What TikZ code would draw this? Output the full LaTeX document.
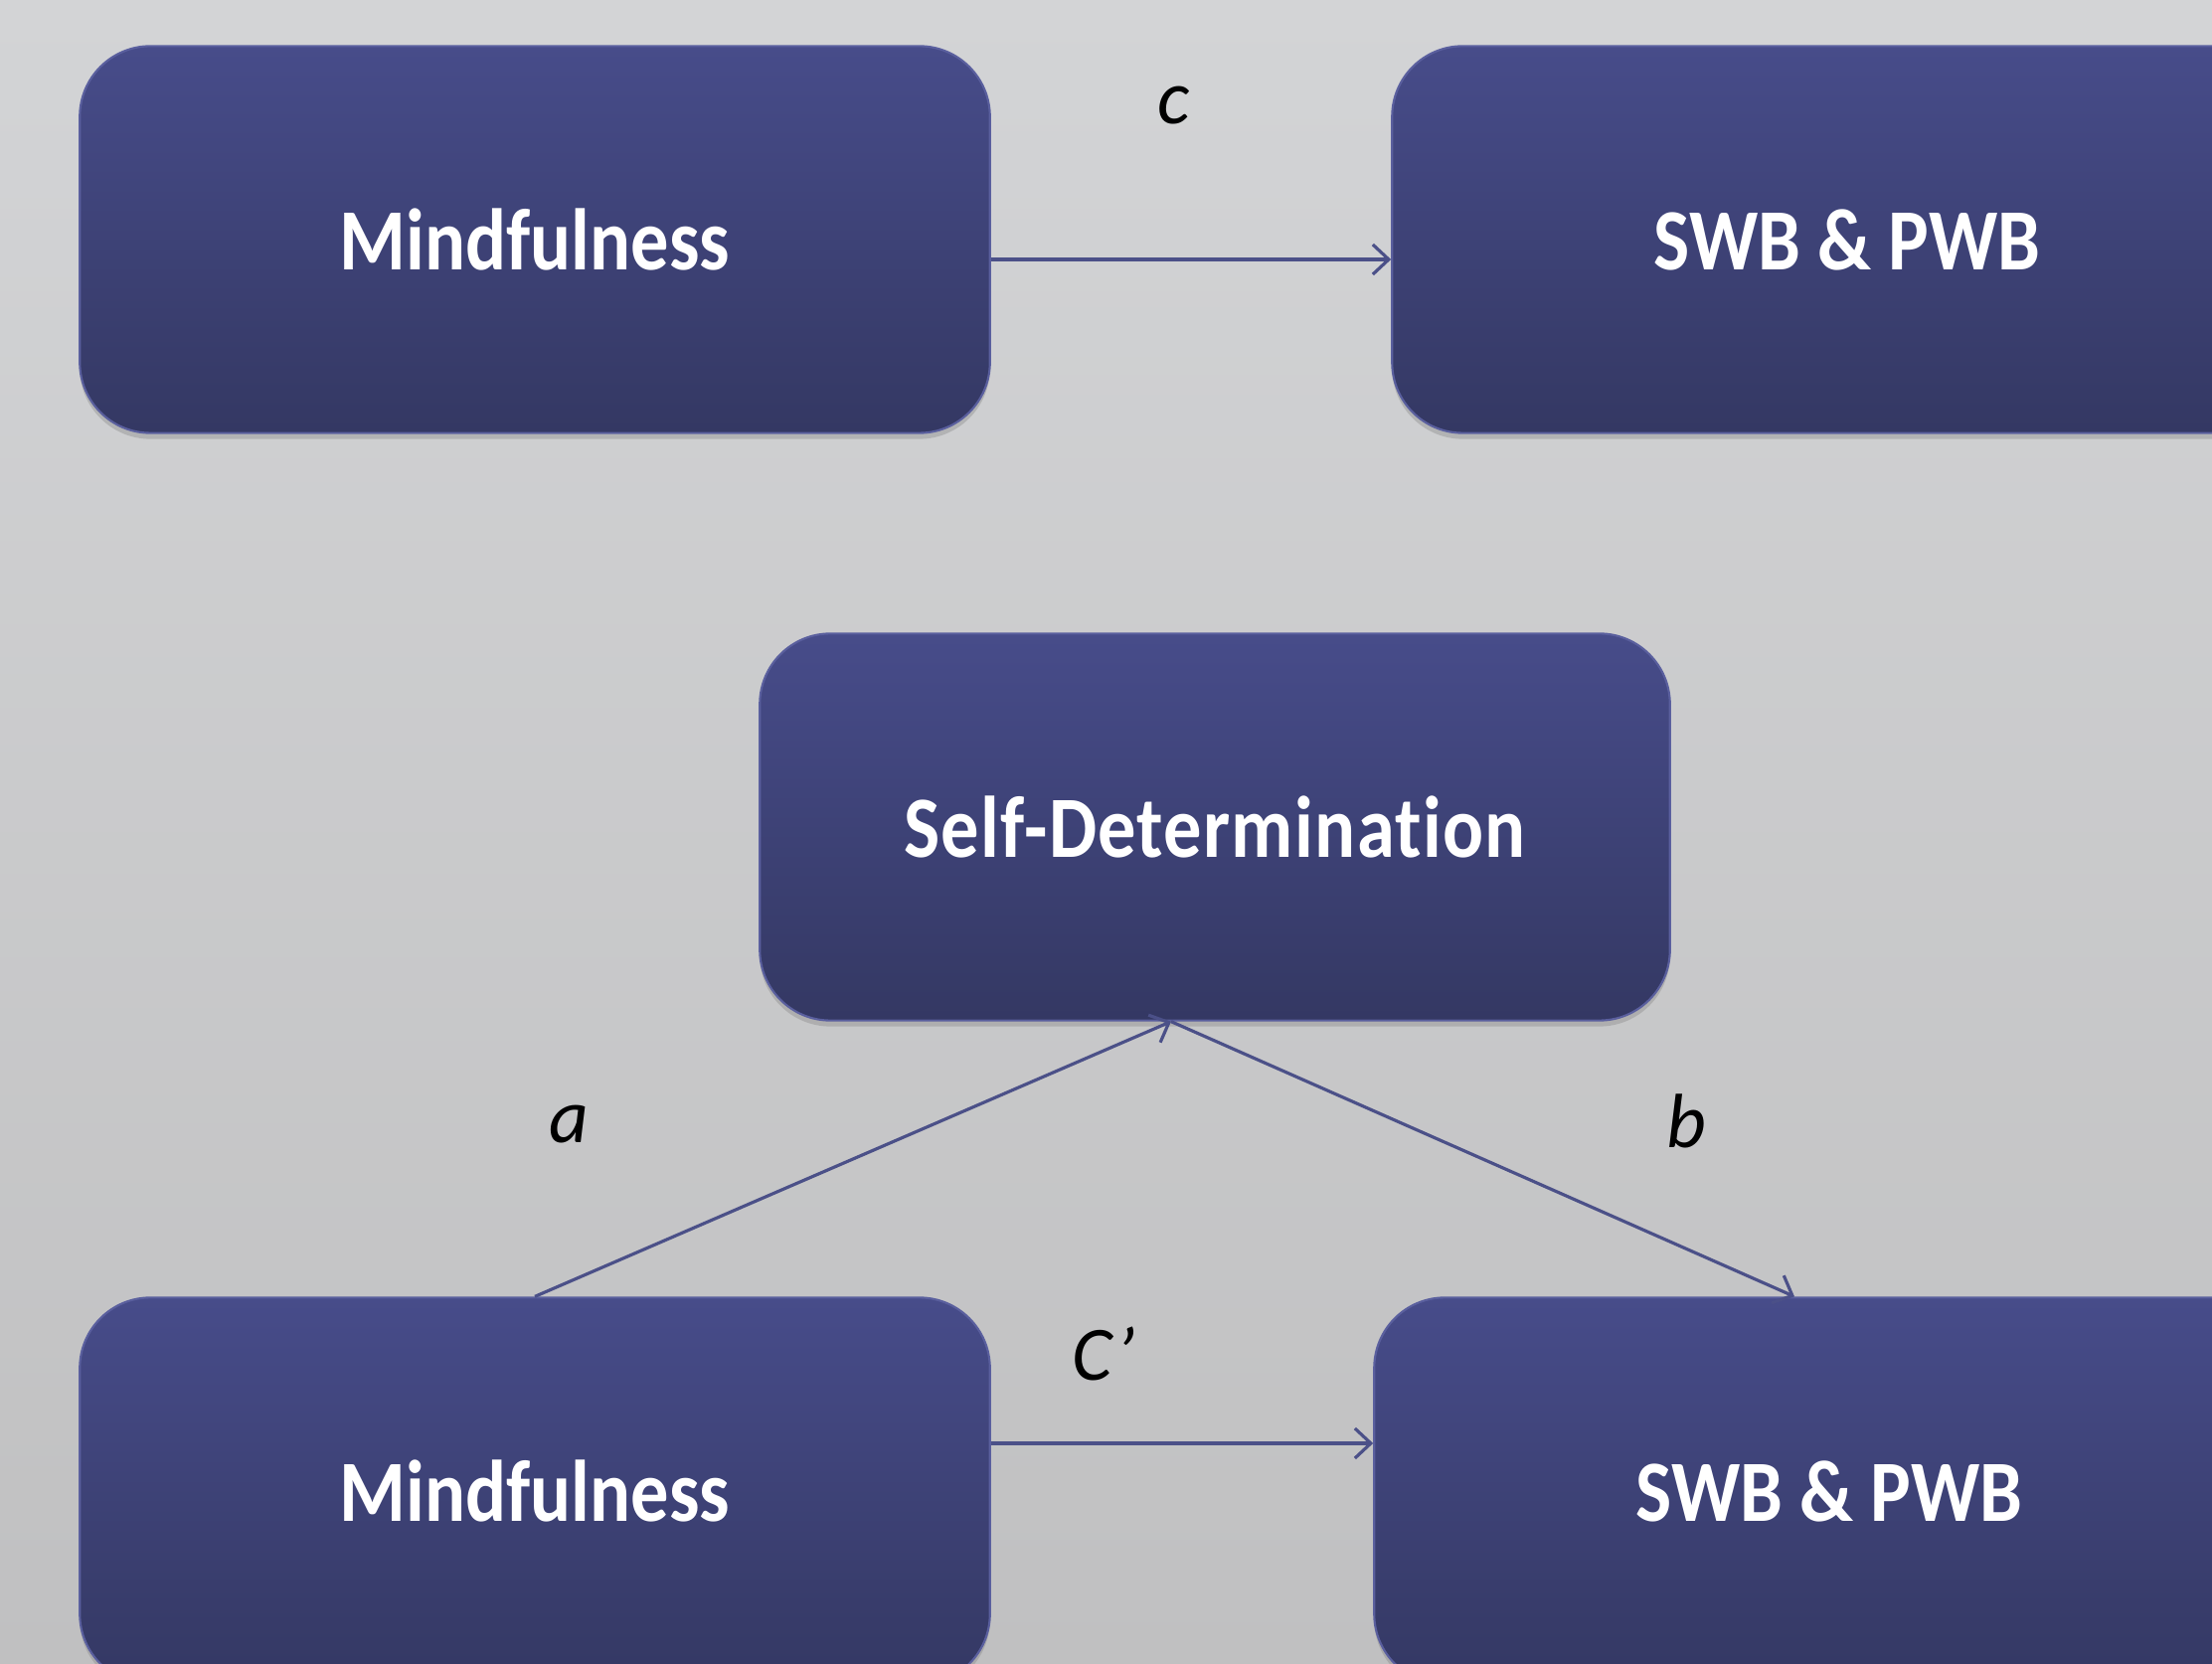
\documentclass[tikz,border=0pt]{standalone}
\usepackage{fontspec}
\setmainfont{Carlito}
\newfontfamily\boxfont[FakeStretch=0.87,Ligatures=NoCommon]{Carlito}
\usetikzlibrary{arrows.meta,shadows}

\definecolor{bgtop}{HTML}{D3D4D6}
\definecolor{bgbot}{HTML}{C0C0C1}
\definecolor{boxtop}{HTML}{474C8A}
\definecolor{boxbot}{HTML}{343863}
\definecolor{boxedge}{HTML}{5A5F9E}
\definecolor{linkcol}{HTML}{4B5088}

\tikzset{
  varbox/.style={rounded corners=0.71cm, minimum width=9.15cm, minimum height=3.89cm,
    top color=boxtop, bottom color=boxbot, draw=boxedge, line width=0.6pt,
    drop shadow={shadow xshift=0pt, shadow yshift=-0.06cm, opacity=0.35},
    text=white, font=\boxfont\bfseries\fontsize{25}{30}\selectfont},
  link/.style={draw=linkcol, line width=0.9pt, -{Straight Barb[length=0.16cm,width=0.3cm]}},
  pathlbl/.style={font=\itshape\fontsize{22}{26}\selectfont, text=black}
}

\begin{document}
\begin{tikzpicture}[x=0.01cm, y=-0.01cm]
\useasboundingbox (0, 0) rectangle (2225, 1674);
\clip (0, 0) rectangle (2225, 1674);
\shade[top color=bgtop, bottom color=bgbot] (0, 0) rectangle (2225, 1674); % background

% total effect
\node[varbox] (mind1) at (538, 241) {Mindfulness};
\node[varbox] (swb1) at (1858, 241) {SWB \& PWB};
\draw[link] ([yshift=-0.2cm]mind1.east) -- ([yshift=-0.2cm]swb1.west);
\node[pathlbl] (lblc) at (1181, 106) {c};

% mediation
\node[varbox] (selfdet) at (1222, 832) {\addfontfeature{LetterSpace=1.5}Self-Determination};
\node[varbox] (mind2) at (538, 1500) {Mindfulness};
\node[varbox] (swb2) at (1840, 1500) {SWB \& PWB};
\draw[link] (mind2.north) -- ([xshift=-0.44cm]selfdet.south);
\draw[link] ([xshift=-0.44cm]selfdet.south) -- ([xshift=-0.35cm]swb2.north);
\draw[link] ([yshift=0.48cm]mind2.east) -- ([yshift=0.48cm]swb2.west);
\node[pathlbl] (lbla) at (572, 1131) {a};
\node[pathlbl] (lblb) at (1696, 1128) {b};
\node[pathlbl] (lblcp) at (1110, 1362) {C’};
\end{tikzpicture}
\end{document}
